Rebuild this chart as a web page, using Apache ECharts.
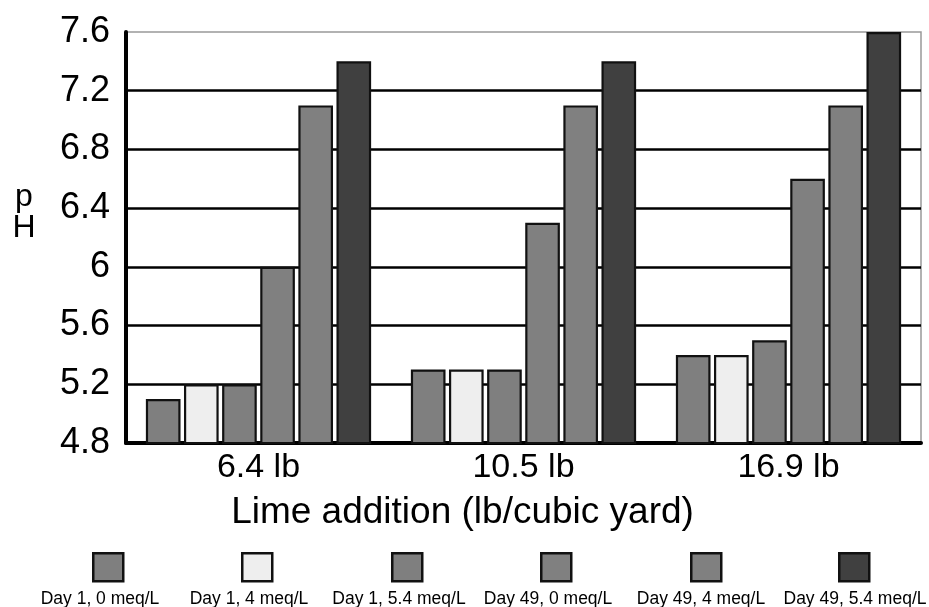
<!DOCTYPE html>
<html>
<head>
<meta charset="utf-8">
<script src="https://cdn.jsdelivr.net/npm/echarts@6/dist/echarts.min.js"></script>
<style>
html,body{margin:0;padding:0;background:#fff;}
#chart{width:929px;height:607px;}
</style>
</head>
<body>
<div id="chart"></div>
<script>
var categories = ['6.4 lb', '10.5 lb', '16.9 lb'];
var seriesNames = ['Day 1, 0 meq/L', 'Day 1, 4 meq/L', 'Day 1, 5.4 meq/L', 'Day 49, 0 meq/L', 'Day 49, 4 meq/L', 'Day 49, 5.4 meq/L'];
var day1_0 = [5.1, 5.3, 5.4];
var day1_4 = [5.2, 5.3, 5.4];
var day1_54 = [5.2, 5.3, 5.5];
var day49_0 = [6.0, 6.3, 6.6];
var day49_4 = [7.1, 7.1, 7.1];
var day49_54 = [7.4, 7.4, 7.6];
var seriesValues = [day1_0, day1_4, day1_54, day49_0, day49_4, day49_54];
var seriesColors = ['#7f7f7f', '#eeeeee', '#7f7f7f', '#808080', '#808080', '#404040'];
var yMin = 4.8, yMax = 7.6, yStep = 0.4;
var yTitle = 'p\nH';
var xTitle = 'Lime addition (lb/cubic yard)';

var FONT = "'Liberation Sans', Arial, sans-serif";
var legendCenters = [107, 256, 406, 555, 705, 853];
var legendTextCenters = [100, 249, 399, 548, 701, 855];

var chart = echarts.init(document.getElementById('chart'), null, {renderer: 'canvas'});

var series = seriesNames.map(function (n, i) {
  return {
    name: n,
    type: 'bar',
    data: seriesValues[i],
    barGap: '10%',
    barCategoryGap: '15%',
    itemStyle: {color: seriesColors[i], borderColor: '#111', borderWidth: 2.2},
    emphasis: {disabled: true}
  };
});

var legends = seriesNames.map(function (n, i) {
  return {
    data: [n],
    left: legendCenters[i] - 15,
    top: 552,
    padding: 0,
    itemWidth: 30,
    itemHeight: 28,
    itemGap: 0,
    selectedMode: false,
    icon: 'rect',
    formatter: function () { return ''; },
    itemStyle: {borderColor: '#111', borderWidth: 2.5}
  };
});

var graphics = seriesNames.map(function (n, i) {
  return {
    type: 'text',
    x: legendTextCenters[i],
    y: 599,
    style: {text: n, fill: '#000', font: '17.5px ' + FONT, align: 'center', verticalAlign: 'middle'}
  };
});
graphics.push({
  type: 'text',
  x: 24,
  y: 213,
  style: {text: yTitle, fill: '#000', font: '32px ' + FONT, align: 'center', verticalAlign: 'middle', lineHeight: 31}
});

chart.setOption({
  animation: false,
  backgroundColor: '#fff',
  textStyle: {fontFamily: FONT},
  grid: {left: 126, right: 8, top: 32, bottom: 164, show: true, borderColor: '#999', borderWidth: 1.5, backgroundColor: 'transparent'},
  legend: legends,
  graphic: graphics,
  xAxis: {
    type: 'category',
    data: categories,
    axisLine: {lineStyle: {color: '#000', width: 4}},
    axisTick: {show: false},
    axisLabel: {fontSize: 34, color: '#000', margin: 8, fontFamily: FONT},
    name: xTitle,
    nameLocation: 'middle',
    nameGap: 51,
    nameTextStyle: {fontSize: 37, color: '#000', fontFamily: FONT, padding: [0, 122, 0, 0]}
  },
  yAxis: {
    type: 'value',
    min: yMin,
    max: yMax,
    interval: yStep,
    axisLine: {show: true, lineStyle: {color: '#000', width: 4}},
    axisTick: {show: false},
    axisLabel: {fontSize: 36, color: '#000', margin: 16, fontFamily: FONT},
    splitLine: {show: true, showMaxLine: false, lineStyle: {color: '#000', width: 2.5}}
  },
  series: series
});
</script>
</body>
</html>
